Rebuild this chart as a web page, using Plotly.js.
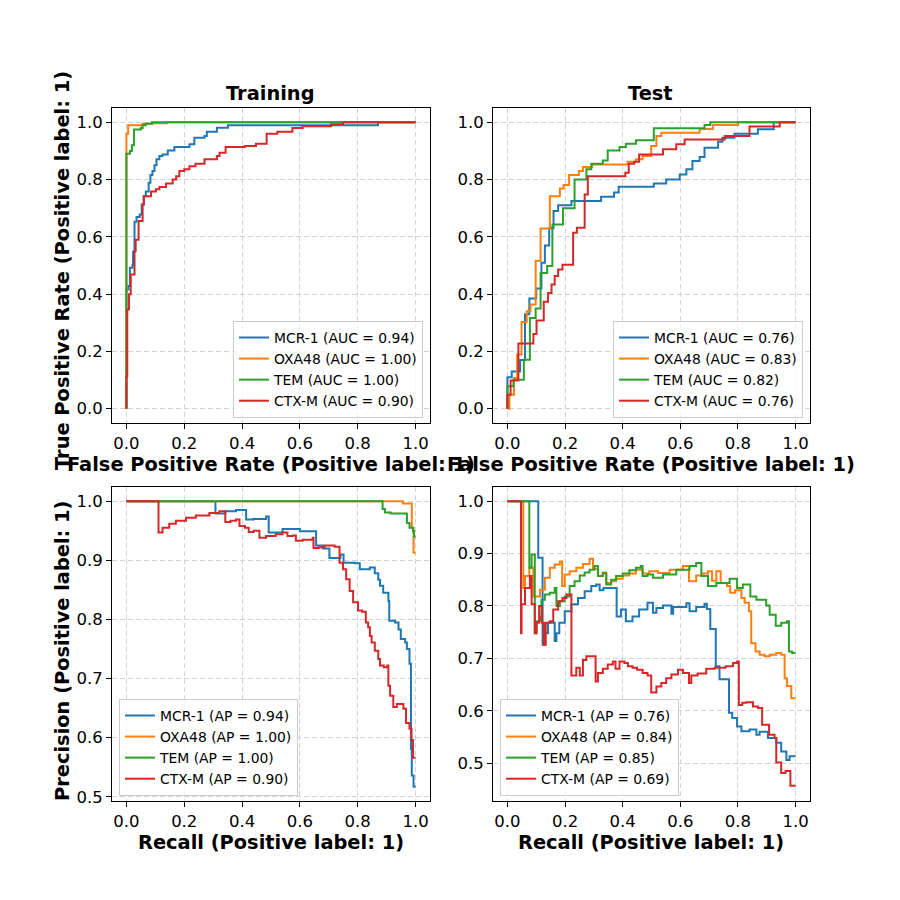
<!DOCTYPE html>
<html>
<head>
<meta charset="utf-8">
<script src="https://cdn.plot.ly/plotly-3.0.1.min.js"></script>
<style>html,body{margin:0;padding:0;background:#fff;}#chart{width:900px;height:900px;}</style>
</head>
<body>
<div id="chart"></div>
<script>
// ---------- Data ----------
const seriesNames = ['MCR-1', 'OXA48', 'TEM', 'CTX-M'];
const trainAUC = ['0.94', '1.00', '1.00', '0.90'];
const testAUC = ['0.76', '0.83', '0.82', '0.76'];
const trainAP = ['0.94', '1.00', '1.00', '0.90'];
const testAP = ['0.76', '0.84', '0.85', '0.69'];
const tickVals01 = [0, 0.2, 0.4, 0.6, 0.8, 1.0];
const tickValsPR = [0.5, 0.6, 0.7, 0.8, 0.9, 1.0];

// Training ROC (FPR, TPR)
const trainRocMcrX = [0,0,0.007,0.012,0.021,0.023,0.028,0.035,0.046,0.053,0.06,0.067,0.077,0.083,0.09,0.097,0.104,0.114,0.125,0.143,0.166,0.218,0.235,0.27,0.278,0.313,0.351,0.87,1];
const trainRocMcrY = [0,0.416,0.428,0.492,0.503,0.548,0.653,0.669,0.678,0.713,0.742,0.758,0.789,0.816,0.83,0.85,0.871,0.882,0.888,0.902,0.914,0.923,0.946,0.952,0.967,0.981,0.99,1,1];
const trainRocOxaX = [0,0,0.006,0.055,0.09,0.14,1];
const trainRocOxaY = [0,0.96,0.99,0.995,0.997,1,1];
const trainRocTemX = [0,0,0.012,0.019,0.026,0.05,0.056,0.067,0.088,1];
const trainRocTemY = [0,0.89,0.9,0.92,0.975,0.98,0.99,0.995,1,1];
const trainRocCtxX = [0,0,0.003,0.009,0.015,0.028,0.032,0.042,0.056,0.06,0.085,0.102,0.114,0.137,0.16,0.172,0.183,0.2,0.218,0.239,0.27,0.313,0.322,0.343,0.409,0.448,0.485,0.522,0.574,0.609,0.708,0.749,1];
const trainRocCtxY = [0,0.113,0.346,0.4,0.469,0.55,0.59,0.655,0.713,0.742,0.758,0.766,0.774,0.786,0.8,0.812,0.83,0.836,0.847,0.855,0.871,0.882,0.894,0.914,0.917,0.925,0.96,0.967,0.98,0.986,0.993,1,1];

// Test ROC
const testRocMcrX = [0,0,0.015,0.044,0.061,0.076,0.1,0.118,0.13,0.145,0.16,0.176,0.222,0.325,0.37,0.386,0.508,0.551,0.598,0.621,0.642,0.667,0.684,0.731,0.746,0.788,0.869,0.924,1];
const testRocMcrY = [0,0.11,0.13,0.17,0.33,0.385,0.42,0.51,0.57,0.63,0.69,0.71,0.725,0.74,0.755,0.775,0.786,0.8,0.818,0.836,0.865,0.879,0.911,0.932,0.946,0.96,0.976,1,1];
const testRocOxaX = [0,0.007,0.023,0.034,0.049,0.067,0.08,0.098,0.115,0.147,0.182,0.195,0.214,0.248,0.262,0.294,0.417,0.446,0.469,0.499,0.517,0.534,0.667,0.713,0.8,1];
const testRocOxaY = [0,0.049,0.107,0.189,0.303,0.34,0.364,0.517,0.629,0.742,0.769,0.781,0.816,0.83,0.844,0.853,0.862,0.871,0.882,0.917,0.952,0.964,0.977,0.991,1,1];
const testRocTemX = [0,0,0.021,0.057,0.078,0.098,0.115,0.138,0.156,0.193,0.233,0.274,0.291,0.331,0.348,0.389,0.411,0.446,0.508,0.684,0.704,1];
const testRocTemY = [0,0.078,0.101,0.171,0.317,0.35,0.474,0.498,0.643,0.7,0.8,0.836,0.855,0.867,0.902,0.914,0.925,0.937,0.979,0.991,1,1];
const testRocCtxX = [0,0,0.011,0.038,0.09,0.101,0.126,0.141,0.153,0.164,0.176,0.191,0.228,0.241,0.268,0.279,0.409,0.421,0.44,0.457,0.54,0.586,0.615,0.754,0.84,0.945,1];
const testRocCtxY = [0,0.049,0.098,0.228,0.261,0.308,0.373,0.404,0.434,0.463,0.486,0.503,0.614,0.632,0.748,0.812,0.824,0.855,0.862,0.888,0.906,0.923,0.94,0.952,0.985,1,1];

// Training PR (Recall, Precision)
const trainPrMcrX = [0,0.308,0.342,0.379,0.414,0.44,0.483,0.492,0.54,0.6,0.656,0.679,0.702,0.74,0.751,0.79,0.807,0.842,0.859,0.871,0.877,0.888,0.906,0.909,0.929,0.941,0.949,0.964,0.97,0.979,0.984,0.987,0.993,1];
const trainPrMcrY = [1,0.979,0.983,0.985,0.969,0.97,0.974,0.947,0.953,0.949,0.925,0.92,0.904,0.91,0.896,0.895,0.885,0.888,0.878,0.867,0.857,0.845,0.831,0.798,0.795,0.783,0.767,0.761,0.75,0.725,0.581,0.536,0.517,0.517];
const trainPrOxaX = [0,0.956,0.987,0.993,1];
const trainPrOxaY = [1,0.996,0.955,0.913,0.913];
const trainPrTemX = [0,0.886,0.894,0.914,0.97,0.979,0.991,0.995,1];
const trainPrTemY = [1,0.987,0.981,0.979,0.963,0.955,0.949,0.94,0.94];
const trainPrCtxX = [0,0.111,0.125,0.148,0.171,0.206,0.24,0.287,0.321,0.342,0.36,0.379,0.391,0.41,0.423,0.44,0.46,0.483,0.516,0.54,0.557,0.575,0.586,0.61,0.644,0.647,0.665,0.685,0.72,0.737,0.749,0.76,0.772,0.784,0.801,0.815,0.828,0.836,0.842,0.848,0.859,0.871,0.877,0.89,0.902,0.906,0.912,0.923,0.935,0.958,0.967,0.979,0.986,0.991,1];
const trainPrCtxY = [1,0.947,0.955,0.962,0.967,0.972,0.976,0.98,0.983,0.965,0.967,0.969,0.958,0.955,0.948,0.95,0.938,0.941,0.944,0.947,0.941,0.942,0.933,0.935,0.938,0.921,0.922,0.925,0.923,0.896,0.885,0.868,0.848,0.829,0.815,0.813,0.795,0.787,0.772,0.761,0.747,0.733,0.722,0.719,0.722,0.688,0.671,0.652,0.657,0.649,0.625,0.615,0.596,0.566,0.566];

// Test PR
const testPrMcrX = [0,0.107,0.122,0.13,0.141,0.164,0.17,0.18,0.199,0.222,0.245,0.268,0.291,0.308,0.32,0.333,0.379,0.394,0.411,0.434,0.457,0.486,0.505,0.517,0.54,0.569,0.575,0.621,0.632,0.655,0.684,0.692,0.704,0.723,0.736,0.769,0.78,0.797,0.812,0.84,0.864,0.875,0.904,0.933,0.95,0.968,0.979,1];
const testPrMcrY = [1,0.892,0.726,0.748,0.768,0.733,0.748,0.768,0.79,0.803,0.815,0.828,0.838,0.841,0.83,0.834,0.78,0.793,0.771,0.78,0.793,0.806,0.787,0.796,0.801,0.785,0.798,0.805,0.79,0.798,0.804,0.794,0.756,0.685,0.66,0.596,0.586,0.57,0.561,0.564,0.554,0.56,0.548,0.539,0.522,0.506,0.513,0.513];
const testPrOxaX = [0,0.055,0.061,0.076,0.09,0.113,0.13,0.147,0.164,0.182,0.19,0.199,0.216,0.239,0.262,0.285,0.297,0.314,0.331,0.343,0.36,0.377,0.4,0.423,0.446,0.469,0.492,0.523,0.563,0.609,0.63,0.655,0.676,0.696,0.71,0.725,0.74,0.762,0.773,0.79,0.812,0.823,0.838,0.846,0.861,0.875,0.892,0.91,0.933,0.95,0.962,0.97,0.985,1];
const testPrOxaY = [1,0.834,0.857,0.873,0.818,0.831,0.854,0.873,0.879,0.885,0.838,0.86,0.866,0.873,0.88,0.89,0.871,0.857,0.864,0.844,0.847,0.852,0.858,0.862,0.869,0.862,0.866,0.863,0.869,0.876,0.847,0.858,0.862,0.866,0.848,0.866,0.844,0.838,0.825,0.83,0.815,0.806,0.79,0.729,0.713,0.707,0.704,0.707,0.71,0.707,0.662,0.647,0.624,0.624];
const testPrTemX = [0,0.076,0.084,0.095,0.101,0.113,0.118,0.13,0.147,0.164,0.17,0.182,0.199,0.216,0.233,0.251,0.268,0.285,0.302,0.314,0.331,0.343,0.36,0.377,0.4,0.423,0.446,0.463,0.469,0.486,0.505,0.54,0.586,0.632,0.655,0.673,0.696,0.725,0.771,0.797,0.817,0.843,0.864,0.898,0.91,0.931,0.95,0.97,0.977,0.988,1];
const testPrTemY = [1,0.873,0.898,0.748,0.771,0.78,0.812,0.822,0.825,0.834,0.8,0.809,0.818,0.838,0.847,0.858,0.864,0.869,0.876,0.857,0.862,0.841,0.85,0.857,0.862,0.868,0.873,0.876,0.857,0.86,0.854,0.86,0.869,0.876,0.882,0.857,0.838,0.844,0.852,0.834,0.841,0.818,0.812,0.801,0.783,0.762,0.768,0.771,0.713,0.71,0.71];
const testPrCtxX = [0,0.047,0.049,0.061,0.078,0.084,0.095,0.101,0.11,0.12,0.126,0.133,0.147,0.159,0.176,0.191,0.205,0.222,0.239,0.251,0.262,0.274,0.306,0.314,0.331,0.348,0.366,0.375,0.389,0.406,0.418,0.434,0.45,0.469,0.486,0.499,0.517,0.534,0.551,0.569,0.592,0.609,0.63,0.638,0.66,0.69,0.719,0.757,0.783,0.797,0.803,0.815,0.829,0.852,0.87,0.884,0.908,0.927,0.933,0.95,0.965,0.982,1];
const testPrCtxY = [1,0.748,0.803,0.834,0.857,0.803,0.748,0.768,0.8,0.768,0.726,0.768,0.771,0.793,0.809,0.815,0.822,0.667,0.682,0.667,0.697,0.704,0.656,0.672,0.68,0.688,0.694,0.68,0.694,0.691,0.685,0.682,0.678,0.672,0.667,0.635,0.646,0.653,0.662,0.669,0.678,0.672,0.653,0.667,0.671,0.68,0.682,0.685,0.691,0.694,0.611,0.615,0.616,0.608,0.605,0.573,0.554,0.548,0.501,0.481,0.485,0.457,0.457];

// ---------- Build ----------
const colors = ['#1f77b4', '#ff7f0e', '#2ca02c', '#d62728'];
const FONT = 'DejaVu Sans, Liberation Sans, sans-serif';

const panels = [
  {xs:[trainRocMcrX,trainRocOxaX,trainRocTemX,trainRocCtxX], ys:[trainRocMcrY,trainRocOxaY,trainRocTemY,trainRocCtxY], metric:'AUC', vals:trainAUC, xa:'x', ya:'y', leg:'legend'},
  {xs:[testRocMcrX,testRocOxaX,testRocTemX,testRocCtxX], ys:[testRocMcrY,testRocOxaY,testRocTemY,testRocCtxY], metric:'AUC', vals:testAUC, xa:'x2', ya:'y2', leg:'legend2'},
  {xs:[trainPrMcrX,trainPrOxaX,trainPrTemX,trainPrCtxX], ys:[trainPrMcrY,trainPrOxaY,trainPrTemY,trainPrCtxY], metric:'AP', vals:trainAP, xa:'x3', ya:'y3', leg:'legend3'},
  {xs:[testPrMcrX,testPrOxaX,testPrTemX,testPrCtxX], ys:[testPrMcrY,testPrOxaY,testPrTemY,testPrCtxY], metric:'AP', vals:testAP, xa:'x4', ya:'y4', leg:'legend4'}
];

const traces = [];
panels.forEach(p => {
  seriesNames.forEach((n, i) => {
    traces.push({
      type: 'scatter', mode: 'lines',
      x: p.xs[i], y: p.ys[i],
      xaxis: p.xa, yaxis: p.ya,
      line: {shape: 'hv', color: colors[i], width: 2},
      name: n + ' (' + p.metric + ' = ' + p.vals[i] + ')',
      legend: p.leg,
      hoverinfo: 'skip'
    });
  });
});

function ax(domain, range, tickvals, anchor) {
  return {
    domain: domain, range: range, anchor: anchor,
    tickvals: tickvals, ticktext: tickvals.map(v => v.toFixed(1)),
    showline: true, mirror: true, linecolor: '#000', linewidth: 1,
    ticks: 'outside', ticklen: 5, tickwidth: 1, tickcolor: '#000',
    showgrid: true, gridcolor: '#d3d3d3', griddash: '5px,3px', gridwidth: 1,
    zeroline: false,
    tickfont: {family: FONT, size: 16.5, color: '#000'}
  };
}

const XL = [0.1244, 0.4778], XR = [0.5478, 0.9];
const YT = [0.53, 0.88], YB = [0.11, 0.459];
const full = [-0.05, 1.05];

function legendAt(x, y, xanchor) {
  return {
    x: x, y: y, xanchor: xanchor, yanchor: 'bottom', xref: 'paper', yref: 'paper',
    bgcolor: 'rgba(255,255,255,0.8)', bordercolor: '#cccccc', borderwidth: 1,
    font: {family: FONT, size: 13.9, color: '#000'},
    tracegroupgap: 0, itemwidth: 30
  };
}

const bold = t => '<b>' + t + '</b>';
const labelFont = {family: FONT, size: 19.4, color: '#000'};

const layout = {
  width: 900, height: 900,
  margin: {l: 0, r: 0, t: 0, b: 0, autoexpand: false},
  paper_bgcolor: '#fff', plot_bgcolor: '#fff',
  showlegend: true,
  xaxis: ax(XL, full, tickVals01, 'y'),
  yaxis: ax(YT, full, tickVals01, 'x'),
  xaxis2: ax(XR, full, tickVals01, 'y2'),
  yaxis2: ax(YT, full, tickVals01, 'x2'),
  xaxis3: ax(XL, full, tickVals01, 'y3'),
  yaxis3: ax(YB, [0.4929, 1.0242], tickValsPR, 'x3'),
  xaxis4: ax(XR, full, tickVals01, 'y4'),
  yaxis4: ax(YB, [0.4277, 1.0272], tickValsPR, 'x4'),
  legend: legendAt(0.4700, 0.5356, 'right'),
  legend2: legendAt(0.8922, 0.5356, 'right'),
  legend3: legendAt(0.1322, 0.1156, 'left'),
  legend4: legendAt(0.5556, 0.1156, 'left'),
  annotations: [
    {text: bold('Training'), x: 0.3011, y: 0.8956, xref: 'paper', yref: 'paper', showarrow: false, xanchor: 'center', yanchor: 'middle', font: labelFont},
    {text: bold('Test'), x: 0.7233, y: 0.8956, xref: 'paper', yref: 'paper', showarrow: false, xanchor: 'center', yanchor: 'middle', font: labelFont},
    {text: bold('False Positive Rate (Positive label: 1)'), x: 0.3011, y: 0.4844, xref: 'paper', yref: 'paper', showarrow: false, xanchor: 'center', yanchor: 'middle', font: labelFont},
    {text: bold('False Positive Rate (Positive label: 1)'), x: 0.7233, y: 0.4844, xref: 'paper', yref: 'paper', showarrow: false, xanchor: 'center', yanchor: 'middle', font: labelFont},
    {text: bold('Recall (Positive label: 1)'), x: 0.3011, y: 0.0644, xref: 'paper', yref: 'paper', showarrow: false, xanchor: 'center', yanchor: 'middle', font: labelFont},
    {text: bold('Recall (Positive label: 1)'), x: 0.7233, y: 0.0644, xref: 'paper', yref: 'paper', showarrow: false, xanchor: 'center', yanchor: 'middle', font: labelFont},
    {text: bold('True Positive Rate (Positive label: 1)'), x: 0.07, y: 0.6989, xref: 'paper', yref: 'paper', showarrow: false, xanchor: 'center', yanchor: 'middle', textangle: -90, font: labelFont},
    {text: bold('Precision (Positive label: 1)'), x: 0.07, y: 0.2767, xref: 'paper', yref: 'paper', showarrow: false, xanchor: 'center', yanchor: 'middle', textangle: -90, font: labelFont}
  ]
};

Plotly.newPlot('chart', traces, layout, {displayModeBar: false, staticPlot: true});
</script>
</body>
</html>
